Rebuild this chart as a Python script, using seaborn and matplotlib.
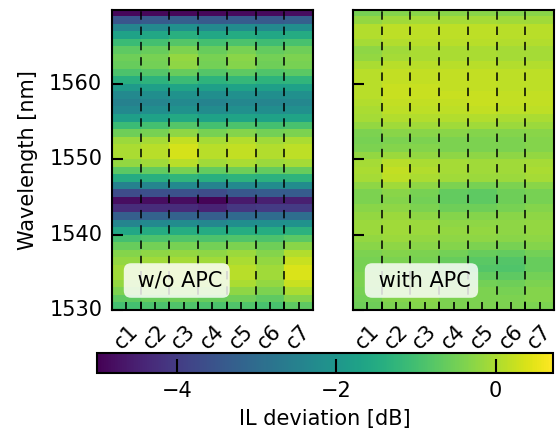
import matplotlib
matplotlib.use('Agg')
import matplotlib.pyplot as plt
import numpy as np
import pandas as pd
import seaborn as sns

# channels and wavelength rows (top -> bottom, 1 nm bins)
channels = ['c1', 'c2', 'c3', 'c4', 'c5', 'c6', 'c7']
wavelengths = np.arange(1569.5, 1530, -1.0)
ytick_vals = [1530, 1540, 1550, 1560]
cbar_ticks = [-4, -2, 0]

# IL deviation [dB], without APC
il_wo_apc = [
    [-4.9, -4.9, -4.9, -4.9, -4.85, -4.85, -4.8],
    [-3.5, -3.4, -3.3, -3.4, -3.35, -3.4, -3.3],
    [-2.4, -2.3, -2.15, -2.3, -2.25, -2.3, -2.2],
    [-1.7, -1.6, -1.4, -1.6, -1.5, -1.6, -1.5],
    [-1.1, -1.0, -0.8, -1.0, -0.9, -1.05, -0.95],
    [-0.7, -0.6, -0.4, -0.6, -0.45, -0.65, -0.55],
    [-0.55, -0.45, -0.2, -0.45, -0.3, -0.5, -0.4],
    [-0.6, -0.5, -0.25, -0.5, -0.35, -0.55, -0.45],
    [-0.9, -0.8, -0.6, -0.8, -0.7, -0.85, -0.75],
    [-1.4, -1.3, -1.1, -1.3, -1.2, -1.3, -1.25],
    [-1.9, -1.8, -1.65, -1.8, -1.7, -1.8, -1.75],
    [-2.3, -2.2, -2.1, -2.2, -2.15, -2.2, -2.15],
    [-2.5, -2.4, -2.3, -2.45, -2.35, -2.4, -2.35],
    [-2.3, -2.2, -2.1, -2.25, -2.15, -2.2, -2.15],
    [-1.8, -1.7, -1.55, -1.7, -1.65, -1.7, -1.65],
    [-1.1, -1.0, -0.8, -1.0, -0.9, -1.0, -0.95],
    [-0.55, -0.45, -0.25, -0.45, -0.35, -0.5, -0.4],
    [-0.15, -0.05, 0.2, -0.05, 0.05, -0.1, 0.0],
    [0.0, 0.1, 0.35, 0.1, 0.2, 0.05, 0.15],
    [0.0, 0.1, 0.35, 0.1, 0.2, 0.05, 0.15],
    [-0.2, -0.1, 0.1, -0.1, 0.0, -0.15, -0.05],
    [-0.75, -0.65, -0.45, -0.65, -0.55, -0.65, -0.6],
    [-1.5, -1.4, -1.25, -1.4, -1.3, -1.35, -1.3],
    [-2.5, -2.4, -2.3, -2.45, -2.3, -2.25, -2.25],
    [-3.7, -3.6, -3.55, -3.7, -3.45, -3.35, -3.35],
    [-4.8, -4.8, -4.8, -4.95, -4.6, -4.5, -4.5],
    [-4.3, -4.3, -4.3, -4.45, -4.1, -4.0, -4.0],
    [-3.3, -3.2, -3.2, -3.3, -3.05, -3.0, -2.95],
    [-2.4, -2.3, -2.25, -2.35, -2.2, -2.15, -2.1],
    [-1.6, -1.5, -1.45, -1.5, -1.45, -1.45, -1.35],
    [-1.0, -0.9, -0.85, -0.9, -0.85, -0.9, -0.75],
    [-0.6, -0.5, -0.45, -0.5, -0.4, -0.55, -0.3],
    [-0.35, -0.25, -0.2, -0.25, -0.15, -0.35, 0.05],
    [-0.2, -0.1, -0.05, -0.1, 0.0, -0.2, 0.25],
    [-0.1, 0.0, 0.05, 0.0, 0.1, -0.1, 0.4],
    [-0.1, 0.0, 0.05, 0.0, 0.1, -0.1, 0.4],
    [-0.2, -0.1, -0.05, -0.1, 0.0, -0.2, 0.25],
    [-0.4, -0.3, -0.25, -0.3, -0.25, -0.4, 0.0],
    [-0.7, -0.6, -0.55, -0.6, -0.55, -0.7, -0.35],
    [-1.0, -0.9, -0.85, -0.9, -0.85, -0.95, -0.7],
]

# IL deviation [dB], with APC
il_with_apc = [
    [-0.45, -0.35, -0.3, -0.3, -0.3, -0.35, -0.3],
    [-0.2, -0.1, -0.05, -0.05, -0.05, -0.1, -0.1],
    [0.05, 0.15, 0.15, 0.15, 0.15, 0.1, 0.1],
    [0.05, 0.15, 0.15, 0.15, 0.15, 0.1, 0.1],
    [-0.05, 0.05, 0.1, 0.1, 0.1, 0.05, 0.05],
    [-0.25, -0.1, 0.0, 0.0, 0.0, -0.05, -0.05],
    [-0.2, -0.05, 0.0, 0.0, 0.0, -0.05, -0.05],
    [0.0, 0.1, 0.1, 0.1, 0.1, 0.05, 0.05],
    [0.1, 0.2, 0.2, 0.2, 0.2, 0.15, 0.15],
    [0.1, 0.2, 0.2, 0.2, 0.2, 0.15, 0.15],
    [0.1, 0.25, 0.25, 0.2, 0.2, 0.15, 0.15],
    [0.1, 0.25, 0.25, 0.25, 0.25, 0.2, 0.2],
    [0.05, 0.2, 0.2, 0.2, 0.25, 0.2, 0.2],
    [0.0, 0.15, 0.15, 0.15, 0.2, 0.15, 0.15],
    [-0.05, 0.05, 0.05, 0.05, 0.05, 0.0, 0.0],
    [-0.2, -0.1, -0.1, -0.1, -0.1, -0.15, -0.15],
    [-0.4, -0.3, -0.3, -0.3, -0.35, -0.35, -0.3],
    [-0.45, -0.4, -0.4, -0.4, -0.4, -0.4, -0.35],
    [-0.4, -0.35, -0.35, -0.4, -0.4, -0.4, -0.35],
    [-0.2, -0.15, -0.2, -0.25, -0.25, -0.25, -0.2],
    [-0.05, 0.1, 0.0, -0.05, -0.1, -0.1, -0.05],
    [0.0, 0.2, 0.05, -0.05, -0.1, -0.1, 0.0],
    [-0.05, 0.15, 0.0, -0.1, -0.15, -0.15, -0.05],
    [-0.25, -0.1, -0.25, -0.4, -0.45, -0.4, -0.3],
    [-0.4, -0.3, -0.45, -0.65, -0.7, -0.55, -0.45],
    [-0.4, -0.35, -0.5, -0.65, -0.7, -0.55, -0.45],
    [-0.3, -0.25, -0.4, -0.55, -0.55, -0.45, -0.35],
    [-0.2, -0.15, -0.25, -0.35, -0.35, -0.3, -0.25],
    [-0.15, -0.1, -0.15, -0.25, -0.25, -0.25, -0.2],
    [-0.15, -0.1, -0.15, -0.2, -0.2, -0.25, -0.2],
    [-0.2, -0.15, -0.2, -0.25, -0.25, -0.3, -0.25],
    [-0.3, -0.25, -0.3, -0.35, -0.4, -0.45, -0.35],
    [-0.4, -0.35, -0.4, -0.5, -0.6, -0.65, -0.5],
    [-0.45, -0.4, -0.45, -0.6, -0.75, -0.8, -0.6],
    [-0.45, -0.4, -0.45, -0.6, -0.8, -0.85, -0.6],
    [-0.4, -0.35, -0.4, -0.55, -0.65, -0.7, -0.5],
    [-0.4, -0.3, -0.35, -0.45, -0.5, -0.55, -0.4],
    [-0.45, -0.3, -0.3, -0.4, -0.4, -0.45, -0.35],
    [-0.5, -0.35, -0.3, -0.4, -0.4, -0.4, -0.35],
    [-0.55, -0.4, -0.35, -0.4, -0.4, -0.4, -0.4],
]

sns.set_style('ticks')
plt.rcParams['font.family'] = ['DejaVu Sans']
plt.rcParams['font.size'] = 15
plt.rcParams['axes.axisbelow'] = False
for key in ['text.color', 'axes.labelcolor', 'xtick.color', 'ytick.color']:
    plt.rcParams[key] = 'black'

fig = plt.figure(figsize=(5.56, 4.32), dpi=100)
ax_l = fig.add_axes([0.2014, 0.2824, 0.3615, 0.6944])
ax_r = fig.add_axes([0.6349, 0.2824, 0.3615, 0.6944])
cax = fig.add_axes([0.1745, 0.1373, 0.8201, 0.0463])

df_l = pd.DataFrame(il_wo_apc, index=wavelengths, columns=channels)
df_r = pd.DataFrame(il_with_apc, index=wavelengths, columns=channels)

sns.heatmap(df_l, ax=ax_l, cmap='viridis', vmin=-5, vmax=0.72, cbar=False)
sns.heatmap(df_r, ax=ax_r, cmap='viridis', vmin=-5, vmax=0.72,
            cbar_ax=cax, cbar_kws={'orientation': 'horizontal'})

top_edge = wavelengths[0] + 0.5
for ax, name in [(ax_l, ' w/o APC'), (ax_r, ' with APC')]:
    ax.set_axisbelow(False)
    for sp in ax.spines.values():
        sp.set_visible(True)
        sp.set_linewidth(1.5)
        sp.set_color('black')
    ax.set_ylim(len(wavelengths), top_edge - 1569.8)
    ax.xaxis.set_ticks_position('bottom')
    ax.yaxis.set_ticks_position('left')
    ax.set_xticks(np.arange(len(channels)) + 0.5)
    ax.set_xticklabels(channels, rotation=45, ha='center', fontsize=15)
    ax.set_xticks(np.arange(1, len(channels)), minor=True)
    ax.tick_params(axis='x', which='both', direction='in', length=6,
                   width=1.2, pad=8, bottom=True, color='black')
    ax.set_yticks([top_edge - t for t in ytick_vals])
    ax.tick_params(axis='y', which='major', direction='in', length=8,
                   width=1.5, pad=7, left=True, color='black')
    for xb in range(1, len(channels)):
        ax.axvline(xb, color='black', lw=1.1, ls=(0, (5.5, 4.5)))
    ax.text(0.095, 0.065, name, transform=ax.transAxes, ha='left', va='bottom',
            fontsize=15,
            bbox=dict(boxstyle='round,pad=0.35', fc='white', ec='none', alpha=0.82))
    ax.set_xlabel('')
    ax.set_ylabel('')

ax_l.set_yticklabels([str(t) for t in ytick_vals], fontsize=15, rotation=0)
ax_l.set_ylabel('Wavelength [nm]', fontsize=15, labelpad=8)
ax_r.set_yticklabels([])

cb = ax_r.collections[0].colorbar
cax.set_axisbelow(False)
cb.outline.set_visible(True)
cb.outline.set_linewidth(1.5)
cb.outline.set_edgecolor('black')
cb.set_ticks(cbar_ticks)
cb.set_ticklabels(['\u22124', '\u22122', '0'])
cax.tick_params(direction='in', length=10, width=1.5, pad=6, labelsize=15,
                color='black')
cb.set_label('IL deviation [dB]', fontsize=15, labelpad=6)

fig.savefig('out.png', dpi=100)
